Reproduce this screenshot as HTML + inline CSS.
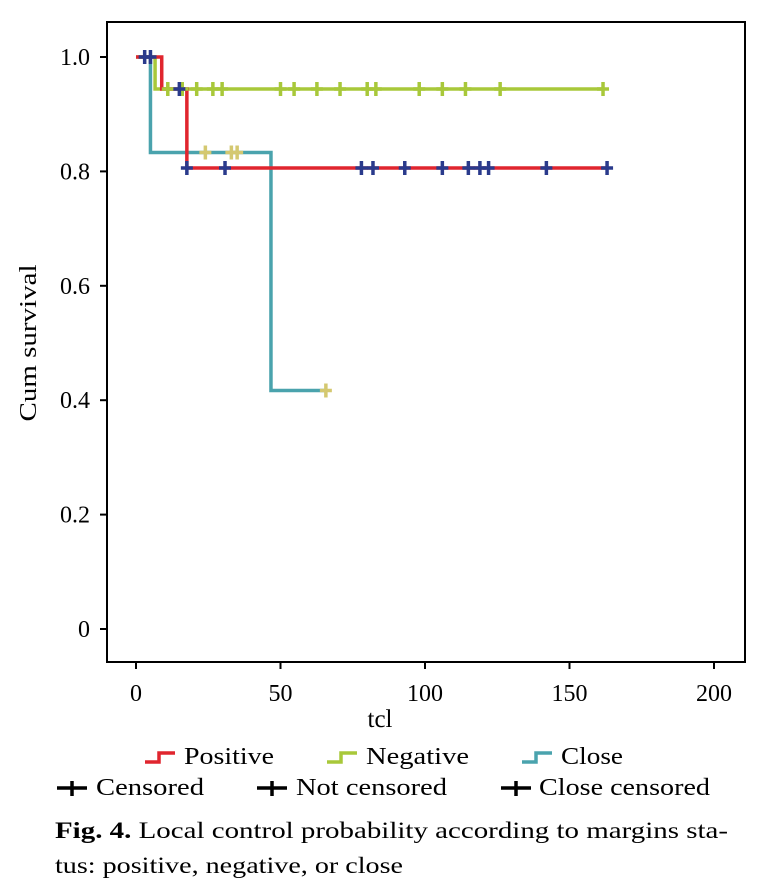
<!DOCTYPE html>
<html><head><meta charset="utf-8"><style>
body{margin:0;background:#fff;width:771px;height:896px;overflow:hidden;font-family:"Liberation Serif",serif;}
svg{display:block}
</style></head><body>
<svg width="771" height="896" id="chart">
<rect x="107" y="22" width="638" height="640" fill="none" stroke="#000" stroke-width="2"/>
<g id="axes"></g><g id="series"></g>
<text x="36" y="343" font-size="24" text-anchor="middle" textLength="157" lengthAdjust="spacingAndGlyphs" transform="rotate(-90 36 343)">Cum survival</text>
<text x="380" y="727" font-size="25" text-anchor="middle">tcl</text>
<g font-size="24">
<path d="M145 762h14v-9h16" stroke="#e0252e" stroke-width="3.5" fill="none"/>
<text x="184" y="764" textLength="90" lengthAdjust="spacingAndGlyphs">Positive</text>
<path d="M327 762h14v-9h16" stroke="#a8c83a" stroke-width="3.5" fill="none"/>
<text x="366" y="764" textLength="103" lengthAdjust="spacingAndGlyphs">Negative</text>
<path d="M522 762h14v-9h16" stroke="#4aa3ad" stroke-width="3.5" fill="none"/>
<text x="561" y="764" textLength="62" lengthAdjust="spacingAndGlyphs">Close</text>
<path d="M57 788h30M72 781v15" stroke="#000" stroke-width="3.5"/>
<text x="96" y="795" textLength="108" lengthAdjust="spacingAndGlyphs">Censored</text>
<path d="M257 788h30M272 781v15" stroke="#000" stroke-width="3.5"/>
<text x="296" y="795" textLength="151" lengthAdjust="spacingAndGlyphs">Not censored</text>
<path d="M501 788h30M516 781v15" stroke="#000" stroke-width="3.5"/>
<text x="539" y="795" textLength="171" lengthAdjust="spacingAndGlyphs">Close censored</text>
</g>
<text x="55" y="838" font-size="23" textLength="673" lengthAdjust="spacingAndGlyphs"><tspan font-weight="bold">Fig. 4.</tspan> Local control probability according to margins sta-</text>
<text x="55" y="873" font-size="23" textLength="348" lengthAdjust="spacingAndGlyphs">tus: positive, negative, or close</text>
</svg>
<script>
const xTicks=[0,50,100,150,200];
const yTicks=[0,0.2,0.4,0.6,0.8,1.0];
const yTickLabels=["0","0.2","0.4","0.6","0.8","1.0"];
const posTimes=[0,8.9,17.6,163];
const posSurv=[1,0.944,0.806,0.806];
const posCens=[[15,0.944],[17.6,0.806],[30.8,0.806],[78,0.806],[82,0.806],[93,0.806],[106,0.806],[115,0.806],[119,0.806],[122,0.806],[142,0.806],[163,0.806]];
const negTimes=[0,6.6,161.6];
const negSurv=[1,0.944,0.944];
const negCens=[11,16,21,26.6,29.8,50,54.7,62.6,70.6,80,83,98,106,114,126,161.6];
const closeTimes=[0.7,5,46.7,65.7];
const closeSurv=[1,0.833,0.417,0.417];
const closeCens=[[24,0.833],[33,0.833],[35,0.833],[65.7,0.417]];
const topCens=[[3,1],[5,1]];
const X=t=>136+t*2.89, Y=s=>629-s*572;
const NS="http://www.w3.org/2000/svg";
const ax=document.getElementById('axes'), se=document.getElementById('series');
function mk(p,tag,a){const e=document.createElementNS(NS,tag);for(const k in a)e.setAttribute(k,a[k]);p.appendChild(e);return e;}
xTicks.forEach(v=>{
 const l=mk(ax,'line',{x1:X(v),x2:X(v),y1:662,y2:669,stroke:'#000','stroke-width':2});
 
 
 const t=mk(ax,'text',{x:X(v),y:701,'font-size':24,'text-anchor':'middle'});t.textContent=v;
 
 
});
yTicks.forEach((v,i)=>{
 const l=mk(ax,'line',{x1:100,x2:107,y1:Y(v),y2:Y(v),stroke:'#000','stroke-width':2});
 
 
 const t=mk(ax,'text',{x:90,y:Y(v)+8,'font-size':24,'text-anchor':'end'});t.textContent=yTickLabels[i];
 
 
});
function step(ts,ss,col,name){
 let d='M'+X(ts[0])+' '+Y(ss[0]);
 for(let i=1;i<ts.length;i++){d+='H'+X(ts[i])+'V'+Y(ss[i]);}
 const p=mk(se,'path',{d:d,stroke:col,'stroke-width':3.5,fill:'none'});
 
 
}
function cross(t,s,col,name){
 const p=mk(se,'path',{d:`M${X(t)-6} ${Y(s)}h12M${X(t)} ${Y(s)-7}v14`,stroke:col,'stroke-width':3.5});
 
 
}
step(closeTimes,closeSurv,'#4aa3ad','close-curve');
step(negTimes,negSurv,'#a8c83a','negative-curve');
step(posTimes,posSurv,'#e0252e','positive-curve');
negCens.forEach(t=>cross(t,0.944,'#a8c83a','negative-censor-mark'));
posCens.forEach(c=>cross(c[0],c[1],'#2a3a8c','positive-censor-mark'));
closeCens.forEach(c=>cross(c[0],c[1],'#d4c870','close-censor-mark'));
topCens.forEach(c=>cross(c[0],c[1],'#2a3a8c','censor-mark'));
</script>
</body></html>
